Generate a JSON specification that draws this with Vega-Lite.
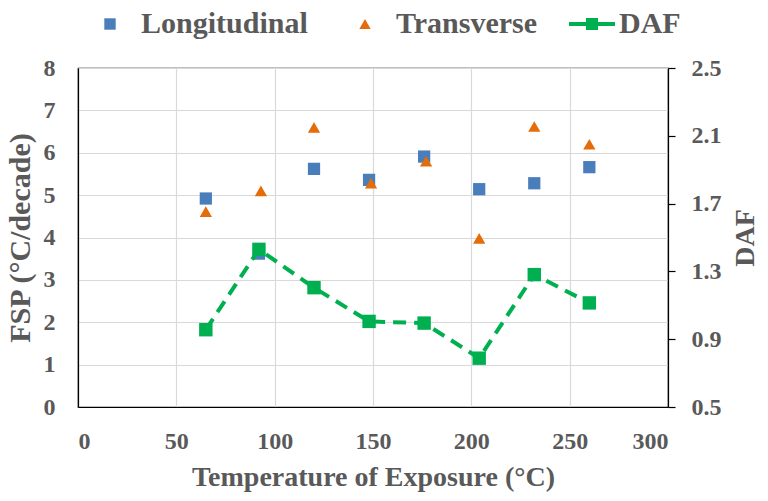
{
  "$schema": "https://vega.github.io/schema/vega-lite/v6.json",
  "width": 590,
  "height": 339,
  "autosize": {"type": "none"},
  "padding": {"left": 78, "top": 68, "right": 100, "bottom": 94},
  "background": "white",
  "config": {
    "view": {"stroke": "#000000", "strokeWidth": 1.2},
    "font": "Liberation Serif",
    "axis": {
      "labelFont": "Liberation Serif",
      "labelFontWeight": "bold",
      "labelFontSize": 24,
      "labelColor": "#595959",
      "titleFont": "Liberation Serif",
      "titleFontWeight": "bold",
      "titleFontSize": 28,
      "titleColor": "#595959",
      "domainColor": "#000000",
      "domainWidth": 1.2,
      "gridColor": "#d9d9d9",
      "gridWidth": 1.2
    },
    "legend": {
      "labelFont": "Liberation Serif",
      "labelFontWeight": "bold",
      "labelFontSize": 30,
      "labelColor": "#595959",
      "labelLimit": 400
    }
  },
  "data": {
    "values": [
      {"T": 65, "series": "Longitudinal", "value": 4.92},
      {"T": 92, "series": "Longitudinal", "value": 3.62},
      {"T": 120, "series": "Longitudinal", "value": 5.62},
      {"T": 148, "series": "Longitudinal", "value": 5.36},
      {"T": 176, "series": "Longitudinal", "value": 5.91},
      {"T": 204, "series": "Longitudinal", "value": 5.14},
      {"T": 232, "series": "Longitudinal", "value": 5.28},
      {"T": 260, "series": "Longitudinal", "value": 5.66},
      {"T": 65, "series": "Transverse", "value": 4.61},
      {"T": 93, "series": "Transverse", "value": 5.1},
      {"T": 120, "series": "Transverse", "value": 6.6},
      {"T": 149, "series": "Transverse", "value": 5.28},
      {"T": 177, "series": "Transverse", "value": 5.8},
      {"T": 204, "series": "Transverse", "value": 3.98},
      {"T": 232, "series": "Transverse", "value": 6.62},
      {"T": 260, "series": "Transverse", "value": 6.2},
      {"T": 65, "series": "DAF", "value": 0.956},
      {"T": 92, "series": "DAF", "value": 1.43},
      {"T": 120, "series": "DAF", "value": 1.204},
      {"T": 148, "series": "DAF", "value": 1.005},
      {"T": 176, "series": "DAF", "value": 0.995},
      {"T": 204, "series": "DAF", "value": 0.788},
      {"T": 232, "series": "DAF", "value": 1.281},
      {"T": 260, "series": "DAF", "value": 1.114}
    ]
  },
  "encoding": {
    "x": {
      "field": "T",
      "type": "quantitative",
      "scale": {"domain": [0, 300], "nice": false, "zero": false},
      "axis": {
        "values": [0, 50, 100, 150, 200, 250, 300],
        "ticks": false,
        "labelPadding": 22,
        "title": "Temperature  of Exposure  (°C)",
        "titlePadding": 10
      }
    }
  },
  "layer": [
    {
      "transform": [{"filter": "datum.series !== 'DAF'"}],
      "mark": {"type": "point", "filled": true, "opacity": 1, "size": 150},
      "encoding": {
        "y": {
          "field": "value",
          "type": "quantitative",
          "scale": {"domain": [0, 8], "nice": false},
          "axis": {
            "values": [0, 1, 2, 3, 4, 5, 6, 7, 8],
            "ticks": false,
            "labelPadding": 23,
            "title": "FSP (°C/decade)",
            "titleFontSize": 30,
            "titlePadding": 8
          }
        },
        "color": {
          "field": "series",
          "type": "nominal",
          "scale": {
            "domain": ["Longitudinal", "Transverse"],
            "range": ["#4A7EBB", "#E46C0A"]
          },
          "legend": {
            "title": null,
            "orient": "none",
            "direction": "horizontal",
            "legendX": 17,
            "legendY": -59,
            "symbolSize": 130,
            "symbolOpacity": 1,
            "labelOffset": 16,
            "columnPadding": 42
          }
        },
        "shape": {
          "field": "series",
          "type": "nominal",
          "scale": {
            "domain": ["Longitudinal", "Transverse"],
            "range": ["square", "triangle-up"]
          },
          "legend": {
            "title": null,
            "orient": "none",
            "direction": "horizontal",
            "legendX": 17,
            "legendY": -59,
            "symbolSize": 130,
            "labelOffset": 16,
            "columnPadding": 42
          }
        }
      }
    },
    {
      "transform": [{"filter": "datum.series === 'DAF'"}],
      "layer": [
        {
          "mark": {"type": "line", "strokeWidth": 4, "strokeDash": [13, 8]},
          "encoding": {
            "y": {
              "field": "value",
              "type": "quantitative",
              "scale": {"domain": [0.5, 2.5], "nice": false, "zero": false},
              "axis": {
                "orient": "right",
                "values": [0.5, 0.9, 1.3, 1.7, 2.1, 2.5],
                "format": ".1f",
                "grid": false,
                "ticks": true,
                "tickColor": "#000000",
                "tickSize": 7,
                "tickWidth": 1.2,
                "labelPadding": 16,
                "title": "DAF",
                "titleAngle": 270,
                "titlePadding": 38
              }
            },
            "color": {
              "field": "series",
              "type": "nominal",
              "scale": {"domain": ["DAF"], "range": ["#00B050"]},
              "legend": {
                "title": null,
                "orient": "none",
                "legendX": 499,
                "legendY": -59,
                "symbolType": "M-4.6,-0.4H4.6V0.4H-4.6Z M-1.2,-1.2H1.2V1.2H-1.2Z",
                "symbolSize": 100,
                "symbolFillColor": "#00B050",
                "symbolStrokeColor": "#00B050",
                "symbolStrokeWidth": 0,
                "symbolDash": [],
                "symbolOpacity": 1,
                "labelOffset": 12
              }
            }
          }
        },
        {
          "mark": {"type": "point", "shape": "square", "filled": true, "opacity": 1, "size": 180, "color": "#00B050"},
          "encoding": {
            "y": {"field": "value", "type": "quantitative"}
          }
        }
      ]
    }
  ],
  "resolve": {"scale": {"y": "independent", "color": "independent", "shape": "independent"}}
}
